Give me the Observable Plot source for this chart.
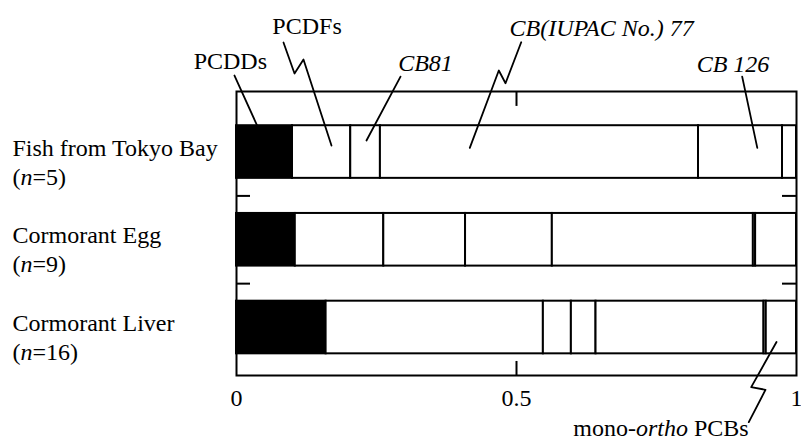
<!DOCTYPE html>
<html><head><meta charset="utf-8">
<script src="https://cdn.jsdelivr.net/npm/d3@7"></script>
<script src="https://cdn.jsdelivr.net/npm/@observablehq/plot@0.6"></script>
<style>body{margin:0;background:#fff;} svg{display:block}</style>
</head><body><div id="chart"></div>
<script>
// ---- data ----
const categories = ["Fish from Tokyo Bay", "Cormorant Egg", "Cormorant Liver"];
const sampleSizes = [5, 9, 16];
const components = ["PCDDs", "PCDFs", "CB81", "CB77", "CB126", "CB169", "mono-ortho PCBs"];
const fishShares  = [0.100, 0.104, 0.053, 0.568, 0.150, 0.000, 0.025];
const eggShares   = [0.105, 0.158, 0.146, 0.155, 0.359, 0.004, 0.073];
const liverShares = [0.160, 0.388, 0.050, 0.044, 0.300, 0.004, 0.054];
const xTicks = [0, 0.5, 1];
const xTickLabels = ["0", "0.5", "1"];

// annotation labels (x in fraction, y in row units)
const labelTexts  = ["PCDDs", "PCDFs", "CB81", "CB(IUPAC No.) 77", "CB 126", "mono-ortho PCBs"];
const labelX      = [-0.011, 0.126, 0.3375, 0.652, 0.8866, 0.758];
const labelY      = [-0.952, -1.350, -0.929, -1.328, -0.917, 3.231];
const labelItalic = [false, false, true, true, true, false];
// leader lines for each label
const leaderX = [[-0.0036, 0.0393], [0.0839, 0.1036, 0.1196, 0.1696], [0.2929, 0.2321],
                 [0.5084, 0.4804, 0.4684, 0.4166], [0.903, 0.930], [0.9148, 0.9446, 0.9191, 0.9643]];
const leaderY = [[-0.872, -0.268], [-1.248, -0.895, -1.054, -0.074], [-0.860, -0.131],
                 [-1.251, -0.784, -0.929, -0.048], [-0.860, -0.048], [3.079, 2.710, 2.680, 2.165]];

// ---- build tables ----
const shares = [fishShares, eggShares, liverShares];
const segments = [];
shares.forEach((arr, i) => {
  let c = 0;
  arr.forEach((v, j) => {
    segments.push({row: i, component: components[j], x1: c, x2: c + v});
    c += v;
  });
});
const rows = categories.map((name, i) => ({row: i, name, n: sampleSizes[i]}));
const labels = labelTexts.map((t, i) => ({text: t, x: labelX[i], y: labelY[i], italic: labelItalic[i]}));
const leaders = [];
leaderX.forEach((xs, i) => xs.forEach((x, k) => leaders.push({id: i, x, y: leaderY[i][k]})));

const yDomain = [-0.69, 2.547];
const half = 0.3;
const font = "'Liberation Serif', 'Times New Roman', serif";

const chart = Plot.plot({
  width: 801, height: 440,
  marginLeft: 236, marginRight: 5, marginTop: 91, marginBottom: 65,
  x: {domain: [0, 1], label: null},
  y: {domain: yDomain, reverse: true, axis: null},
  style: {fontFamily: font, fontSize: "24px", background: "white", color: "black", overflow: "visible"},
  marks: [
    Plot.rectX(segments, {
      x1: "x1", x2: "x2",
      y1: d => d.row - half, y2: d => d.row + half,
      fill: d => d.component === "PCDDs" ? "black" : "white",
      stroke: "black", strokeWidth: 2
    }),
    Plot.frame({stroke: "black", strokeWidth: 2}),
    Plot.ruleY([0.5, 1.5], {x1: 0, x2: 0.025, stroke: "black", strokeWidth: 2}),
    Plot.ruleY([0.5, 1.5], {x1: 0.975, x2: 1, stroke: "black", strokeWidth: 2}),
    Plot.ruleX([0.5], {y1: yDomain[0], y2: -0.52, stroke: "black", strokeWidth: 2}),
    Plot.ruleX([0.5], {y1: 2.387, y2: yDomain[1], stroke: "black", strokeWidth: 2}),
    Plot.axisX(xTicks, {tickSize: 0, tickPadding: 13, fontSize: 24, label: null, fill: "black",
      tickFormat: d => xTickLabels[xTicks.indexOf(d)]}),
    Plot.line(leaders, {x: "x", y: "y", z: "id", stroke: "black", strokeWidth: 1.8}),
    Plot.text(rows, {frameAnchor: "left", y: "row", text: "name", textAnchor: "start",
      dx: -224, dy: 3.5, lineAnchor: "bottom", fontSize: 24, fill: "black"}),
    Plot.text(rows, {frameAnchor: "left", y: "row", text: d => `(n=${d.n})`, textAnchor: "start",
      dx: -224, dy: 32.5, lineAnchor: "bottom", fontSize: 24, fill: "black"}),
    Plot.text(labels.filter(d => !d.italic), {x: "x", y: "y", text: "text", textAnchor: "middle",
      lineAnchor: "bottom", fontSize: 24, fill: "black"}),
    Plot.text(labels.filter(d => d.italic), {x: "x", y: "y", text: "text", textAnchor: "middle",
      lineAnchor: "bottom", fontSize: 24, fontStyle: "italic", fill: "black"})
  ]
});

// mixed italic text
const NS = "http://www.w3.org/2000/svg";
function italicize(t, before, it, after) {
  t.textContent = "";
  t.append(before);
  const ts = document.createElementNS(NS, "tspan");
  ts.setAttribute("font-style", "italic");
  ts.textContent = it;
  t.append(ts);
  t.append(after);
}
chart.querySelectorAll("text").forEach(t => {
  if (t.children.length) return;
  const s = t.textContent;
  const m = s.match(/^\(n=(\d+)\)$/);
  if (m) italicize(t, "(", "n", `=${m[1]})`);
  else if (s === "mono-ortho PCBs") italicize(t, "mono-", "ortho", " PCBs");
});
document.getElementById("chart").append(chart);
</script>
</body></html>
